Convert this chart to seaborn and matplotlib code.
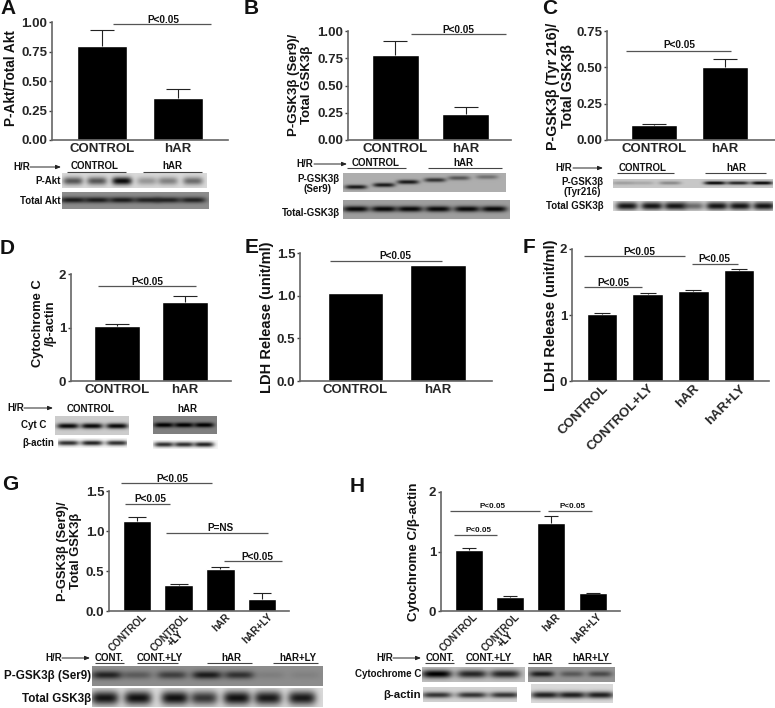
import numpy as np
import pandas as pd
import seaborn as sns
import matplotlib.pyplot as plt
from matplotlib.transforms import ScaledTranslation

W, H = 775, 708

# bar heights and top of the error bars
a_names = ['CONTROL', 'hAR']
a_vals = [0.80, 0.355]
a_tops = [0.93, 0.43]

b_names = ['CONTROL', 'hAR']
b_vals = [0.78, 0.24]
b_tops = [0.91, 0.30]

c_names = ['CONTROL', 'hAR']
c_vals = [0.10, 0.50]
c_tops = [0.11, 0.56]

d_names = ['CONTROL', 'hAR']
d_vals = [1.02, 1.48]
d_tops = [1.06, 1.58]

e_names = ['CONTROL', 'hAR']
e_vals = [1.03, 1.36]

f_names = ['CONTROL', 'CONTROL+LY', 'hAR', 'hAR+LY']
f_vals = [1.02, 1.32, 1.37, 1.68]
f_tops = [1.03, 1.33, 1.38, 1.69]

# the +LY of the second group sits on its own line in G and H
g_names = ['CONTROL', 'CONTROL', 'hAR', 'hAR+LY']
g_vals = [1.12, 0.32, 0.53, 0.155]
g_tops = [1.175, 0.335, 0.545, 0.23]

h_names = ['CONTROL', 'CONTROL', 'hAR', 'hAR+LY']
h_vals = [1.02, 0.24, 1.48, 0.30]
h_tops = [1.06, 0.25, 1.59, 0.31]

# blot band darkness, 0 = no band, 1 = black
a_blot1 = [0.6, 0.6, 0.95, 0.3, 0.4, 0.5]
a_blot2 = [0.8, 0.8, 0.8, 0.75, 0.75, 0.75]
b_blot1 = [0.85, 0.85, 0.85, 0.7, 0.5, 0.35]
b_blot2 = [0.95, 0.95, 0.95, 0.95, 0.95, 0.95]
c_blot1 = [0.2, 0.15, 0.3, 0.95, 0.8, 0.95]
c_blot2 = [0.9, 0.9, 0.9, 0.5, 0.9, 0.9, 0.9]
d_blot1 = [0.95, 0.95, 0.95]
d_blot2 = [1.0, 1.0, 1.0]
d_blot3 = [0.8, 0.85, 0.8]
d_blot4 = [0.8, 0.8, 0.85]
g_blot1 = [0.75, 0.35, 0.55, 0.8, 0.65, 0.1, 0.08]
g_blot2 = [0.9, 0.92, 0.92, 0.75, 0.92, 0.88, 0.88]
h_blot1 = [1.0, 0.8, 0.8]
h_blot2 = [0.8, 0.4, 0.5]
h_blot3 = [0.75, 0.75, 0.75]
h_blot4 = [0.85, 0.85, 0.85]

sns.set_style('white')
plt.rcParams['font.family'] = ['Liberation Sans', 'DejaVu Sans']
plt.rcParams['font.weight'] = 'bold'

fig = plt.figure(figsize=(W / 100, H / 100), dpi=100)
top = fig.add_axes([0, 0, 1, 1], zorder=5)
top.set_xlim(0, W)
top.set_ylim(H, 0)
top.axis('off')
top.patch.set_alpha(0)


def px_axes(x0, x1, y0, y1):
    return fig.add_axes([x0 / W, 1 - y1 / H, (x1 - x0) / W, (y1 - y0) / H])


def bars(names, vals, tops, box, ymax, yticks, fmt, c0, step, bw, rot=0, fs=9.5, pad=2, cap=17, dx=0):
    x0, x1, y0, y1 = box
    ax = px_axes(x0, x1, y0, y1)
    pos = list(range(len(vals)))
    df = pd.DataFrame({'group': pos, 'value': vals})
    sns.barplot(data=df, x='group', y='value', color='black', saturation=1,
                width=bw / step, ax=ax)
    if tops is not None:
        ax.vlines(pos, vals, tops, color='#222222', lw=0.8)
        ax.plot(pos, tops, ls='none', marker='_', ms=cap, mew=0.8, color='#222222')
    ax.set_xlim((x0 - c0) / step, (x1 - c0) / step)
    ax.set_ylim(0, ymax)
    ax.set_yticks(yticks)
    ax.set_yticklabels([fmt % t for t in yticks], fontsize=9.5, fontweight='bold')
    ax.set_xlabel('')
    ax.set_ylabel('')
    ax.tick_params(axis='x', length=0, pad=pad)
    ax.tick_params(axis='y', length=2.5, width=1, color='#444444', pad=1, left=True)
    ax.set_xticks(pos)
    if rot:
        ax.set_xticklabels(names, rotation=rot, ha='right', va='top', rotation_mode='anchor',
                           fontsize=fs, fontweight='bold')
        shift = ScaledTranslation(dx / 100, 0, fig.dpi_scale_trans)
        for t in ax.get_xticklabels():
            t.set_transform(t.get_transform() + shift)
    else:
        ax.set_xticklabels(names, fontsize=fs, fontweight='bold')
    sns.despine(ax=ax)
    for s in ['left', 'bottom']:
        ax.spines[s].set_color('#666666')
        ax.spines[s].set_linewidth(1.2)
    return ax


def blot(box, centers, dark, bg, band_y, bw, bh):
    x0, x1, y0, y1 = box
    n_y, n_x = int(y1 - y0), int(x1 - x0)
    xx, yy = np.meshgrid(np.arange(n_x) + x0 + 0.5, np.arange(n_y) + y0 + 0.5)
    img = np.full(xx.shape, float(bg))
    ys = band_y if isinstance(band_y, list) else [band_y] * len(centers)
    for c, d, yc in zip(centers, dark, ys):
        prof = np.exp(-((xx - c) / bw) ** 4) * np.exp(-((yy - yc) / bh) ** 2)
        img = img * (1 - d * prof)
    ax = px_axes(x0, x1, y0, y1)
    sns.heatmap(img, cmap='gray', vmin=0, vmax=1, cbar=False, xticklabels=False,
                yticklabels=False, ax=ax)
    ax.set_facecolor('white')


def sig(x0, x1, y, txt, tx, ty, fs=7.2):
    top.plot([x0, x1], [y, y], color='#555555', lw=0.9, solid_capstyle='butt')
    top.text(tx, ty, txt, ha='center', va='center', fontsize=fs, color='#111111')


def ylab(x, y, txt, fs=9.8):
    top.text(x + 2.5, y, txt, rotation=90, ha='center', va='center', fontsize=fs, color='#111111',
             linespacing=1.08, multialignment='center')


def letter(x, y, txt):
    top.text(x, y, txt, ha='left', va='center', fontsize=15, color='#111111')


def hr(x_txt, x0, x1, y, fs=7):
    top.text(x_txt, y, 'H/R', ha='left', va='center', fontsize=fs, color='#111111')
    top.annotate('', xy=(x1, y), xytext=(x0, y),
                 arrowprops=dict(arrowstyle='-|>,head_width=0.12,head_length=0.3', color='#222222', lw=0.7,
                                 shrinkA=0, shrinkB=0))


def grp(txt, tx, ty, x0=None, x1=None, ly=None, fs=7):
    top.text(tx, ty, txt, ha='center', va='center', fontsize=fs, color='#111111')
    if x0 is not None:
        top.plot([x0, x1], [ly, ly], color='#444444', lw=0.8, solid_capstyle='butt')


def lab(x, y, txt, ha='right', fs=7):
    top.text(x, y, txt, ha=ha, va='center', fontsize=fs, color='#111111', linespacing=1.05,
             multialignment='center')


# A
bars(a_names, a_vals, a_tops, (52, 228, 22, 140), 1.0, [0, 0.25, 0.5, 0.75, 1.0], '%.2f', 102, 76, 50)
letter(0, 8.5, 'A')
ylab(9, 78, 'P-Akt/Total Akt')
sig(113, 211, 24, 'P<0.05', 163, 20)
hr(13, 30, 61, 167)
grp('CONTROL', 95, 166, 67, 126, 172)
grp('hAR', 172, 166, 143, 202, 172)
lab(61, 181, 'P-Akt')
lab(61, 201, 'Total Akt')
blot((62, 207, 173, 188), [73, 97, 122, 147, 168, 193], a_blot1, 0.85, 181, 10, 4)
blot((62, 209, 192, 209), [73, 97, 122, 147, 168, 193], a_blot2, 0.55, 200, 13, 3)

# B
bars(b_names, b_vals, b_tops, (348, 511, 31, 140), 1.0, [0, 0.25, 0.5, 0.75, 1.0], '%.2f', 395, 70.5, 47)
letter(244, 8.5, 'B')
ylab(298, 85, 'P-GSK3β (Ser9)/\nTotal GSK3β', fs=9.5)
sig(411, 506, 34, 'P<0.05', 458, 30)
hr(296, 314, 347, 164)
grp('CONTROL', 376, 163, 347, 406, 168)
grp('hAR', 463, 163, 428, 502, 168)
lab(318, 184, 'P-GSK3β\n(Ser9)', ha='center')
lab(340, 213, 'Total-GSK3β')
blot((343, 506, 173, 192), [356, 384, 408, 435, 459, 487], b_blot1, 0.68, [187, 185, 182, 180, 178, 177], 11, 2.2)
blot((343, 510, 200, 219), [356, 384, 410, 438, 467, 494], b_blot2, 0.62, 209, 13, 3)

# C
bars(c_names, c_vals, c_tops, (607, 775, 31, 140), 0.75, [0, 0.25, 0.5, 0.75], '%.2f', 654, 70.5, 46)
letter(542, 8.5, 'C')
ylab(558, 86, 'P-GSK3β (Tyr 216)/\nTotal GSK3β', fs=10.2)
sig(626, 731, 51, 'P<0.05', 679, 45)
hr(555, 573, 603, 168)
grp('CONTROL', 643, 168, 617, 674, 173)
grp('hAR', 736, 168, 705, 766, 173)
lab(582, 187, 'P-GSK3β\n(Tyr216)', ha='center')
lab(604, 206, 'Total GSK3β')
blot((613, 773, 179, 188), [623, 643, 670, 715, 738, 762], c_blot1, 0.78, 183, 11, 1.8)
blot((613, 773, 201, 211), [627, 652, 675, 693, 717, 740, 764], c_blot2, 0.85, 206, 11, 4)

# D
bars(d_names, d_vals, d_tops, (71, 231, 274, 381), 2, [0, 1, 2], '%d', 117, 68, 46)
letter(0, 248, 'D')
ylab(42, 323, 'Cytochrome C\n/β-actin', fs=9.3)
sig(98, 196, 286, 'P<0.05', 147, 282)
hr(7, 24, 53, 408)
grp('CONTROL', 91, 409)
grp('hAR', 187, 409)
lab(34, 425, 'Cyt C', ha='center')
lab(38, 443, 'β-actin', ha='center')
blot((55, 129, 416, 435), [68, 92, 117], d_blot1, 0.8, 426, 11, 2.8)
blot((153, 217, 416, 434), [164, 184, 204], d_blot2, 0.5, 425, 10, 2.5)
blot((58, 127, 438, 448), [68, 92, 117], d_blot3, 0.97, 443, 11, 2.6)
blot((153, 218, 440, 449), [164, 184, 204], d_blot4, 0.97, 444.5, 10, 2.6)

# E
bars(e_names, e_vals, None, (300, 492, 253, 381), 1.5, [0, 0.5, 1.0, 1.5], '%.1f', 355.5, 82.5, 55.5)
letter(245, 247.5, 'E')
ylab(265, 317, 'LDH Release (unit/ml)', fs=10.5)
sig(330, 442, 261, 'P<0.05', 395, 256)

# F
bars(f_names, f_vals, f_tops, (572, 769, 249, 381), 2, [0, 1, 2], '%d', 602, 45.7, 30.5, rot=45, pad=1, cap=12)
letter(523, 247.5, 'F')
ylab(548, 315, 'LDH Release (unit/ml)', fs=10.5)
sig(584, 685, 256, 'P<0.05', 639, 252)
sig(692, 738, 264, 'P<0.05', 714, 259)
sig(584, 642, 287, 'P<0.05', 613, 283)

# G
bars(g_names, g_vals, g_tops, (109, 289, 491, 611), 1.5, [0, 0.5, 1.0, 1.5], '%.1f', 137, 41.7, 28.5, rot=45, fs=7.2, pad=0.5, cap=13, dx=5)
top.text(176, 639, '+LY', rotation=45, ha='center', va='center', fontsize=7.2, color='#111111')
letter(2, 485, 'G')
ylab(67, 551, 'P-GSK3β (Ser9)/\nTotal GSK3β', fs=9.3)
sig(121, 212, 483, 'P<0.05', 172, 479)
sig(125, 170, 504, 'P<0.05', 150, 499)
sig(166, 268, 533, 'P=NS', 220, 528)
sig(224, 282, 561, 'P<0.05', 257, 557)
hr(45, 62, 90, 658)
grp('CONT.', 109, 658, 95, 124, 663)
grp('CONT.+LY', 160, 658, 137, 178, 663)
grp('hAR', 231, 658, 207, 252, 663)
grp('hAR+LY', 298, 658, 273, 318, 663)
lab(91, 676, 'P-GSK3β (Ser9)', fs=8.4)
lab(91, 699, 'Total GSK3β', fs=8.4)
blot((92, 323, 666, 686), [107, 137, 172, 207, 239, 270, 305], g_blot1, 0.55, 675, 15, 4)
blot((92, 323, 688, 707), [105, 138, 175, 204, 237, 268, 302], g_blot2, 0.85, 698, 14, 7)

# H
bars(h_names, h_vals, h_tops, (441, 620, 492, 611), 2, [0, 1, 2], '%d', 469, 41.2, 28, rot=45, fs=7.2, pad=0.5, cap=10, dx=4)
top.text(506, 640, '+LY', rotation=45, ha='center', va='center', fontsize=7.2, color='#111111')
letter(350, 486, 'H')
ylab(411, 552, 'Cytochrome C/β-actin', fs=9.6)
sig(450, 540, 511, 'P<0.05', 493, 506, fs=5.8)
sig(548, 592, 511, 'P<0.05', 573, 506, fs=5.8)
sig(454, 497, 535, 'P<0.05', 479, 530, fs=5.8)
hr(376, 393, 421, 658)
grp('CONT.', 440, 658, 425, 454, 663)
grp('CONT.+LY', 489, 658, 465, 513, 663)
grp('hAR', 542, 658, 528, 552, 663)
grp('hAR+LY', 591, 658, 568, 611, 663)
lab(421, 674, 'Cytochrome C')
lab(421, 695, 'β-actin', fs=8.2)
blot((422, 525, 667, 682), [437, 472, 505], h_blot1, 0.75, 674, 15, 4)
blot((528, 615, 667, 682), [542, 572, 600], h_blot2, 0.58, 674, 12, 3)
blot((423, 517, 687, 702), [437, 472, 505], h_blot3, 0.82, 695, 15, 3)
blot((531, 613, 684, 703), [545, 572, 600], h_blot4, 0.85, 695, 14, 3.5)

fig.savefig('out.png', dpi=100)
